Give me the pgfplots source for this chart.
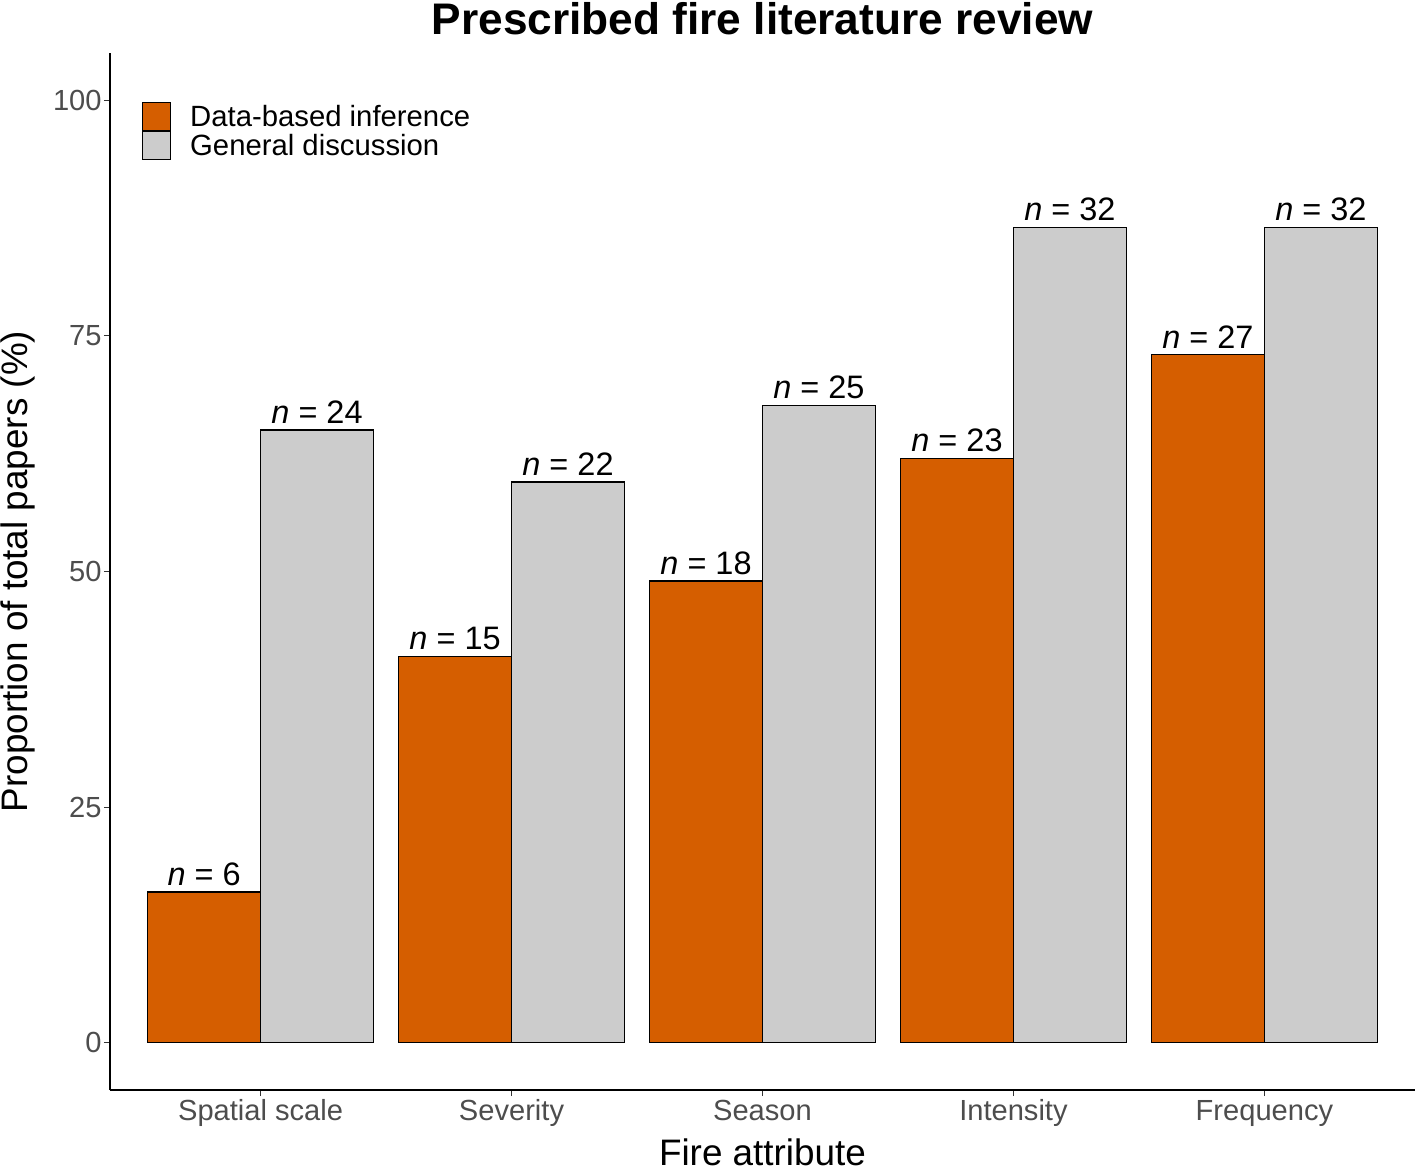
\documentclass[border=0pt]{standalone}
\usepackage{fontspec}
\setmainfont{Liberation Sans}
\usepackage{pgfplots}
\pgfplotsset{compat=1.18}
\usepackage{pgfplotstable}
\definecolor{dataorange}{HTML}{D55E00}
\definecolor{gengrey}{HTML}{CCCCCC}
\definecolor{ticklab}{HTML}{4D4D4D}
\definecolor{tickcol}{HTML}{333333}

\pgfplotstableread{
x y n
1 16.0 6
2 41.0 15
3 49.0 18
4 62.0 23
5 73.0 27
}\databased
\pgfplotstableread{
x y n
1 65.0 24
2 59.5 22
3 67.6 25
4 86.5 32
5 86.5 32
}\general

\begin{document}
\begin{tikzpicture}
\begin{axis}[
  name=ax,
  scale only axis,
  width=652.5bp, height=518.5bp,
  xmin=0.4, xmax=5.6, ymin=-5, ymax=105,
  axis lines=left,
  axis line style={line width=0.7bp, -},
  ybar, bar width=0.45,
  xtick={1,2,3,4,5},
  xticklabels={Spatial scale,Severity,Season,Intensity,Frequency},
  ytick={0,25,50,75,100},
  tick align=outside,
  major tick length=3bp,
  tick style={tickcol, line width=0.6bp},
  /pgf/number format/assume math mode=true,
  ticklabel style={font=\fontsize{14.6}{17}\selectfont, text=ticklab},
  yticklabel style={inner xsep=1bp},
  xticklabel style={inner ysep=1.5bp, text height=10.5bp, text depth=3bp},
  xlabel={Fire attribute},
  ylabel={Proportion of total papers (\%)},
  label style={font=\fontsize{18.5}{22}\selectfont},
  xlabel style={at={(rel axis cs:0.5,0)}, anchor=north, inner sep=0pt, text height=13.5bp, text depth=0pt, yshift=-24bp},
  ylabel style={at={(rel axis cs:0,0.5)}, anchor=center, inner sep=0pt, yshift=46bp},
  title={Prescribed fire literature review},
  title style={at={(rel axis cs:0.5,1)}, anchor=center, yshift=11.25bp, font=\bfseries\fontsize{22.2}{26}\selectfont},
  legend cell align=left,
  legend style={at={(rel axis cs:0,1)}, anchor=north west, xshift=16bp, yshift=-24.5bp,
    draw=none, fill=none, inner sep=0pt, outer sep=0pt, row sep=0pt, column sep=9.5bp,
    font=\fontsize{14.7}{17}\selectfont,
    nodes={inner sep=0pt, text height=12.25bp, text depth=2.25bp}},
  legend image code/.code={\draw[#1, line width=0.6bp] (0bp,-7bp) rectangle (14bp,7bp);},
  nodes near coords={\textit{n} = \pgfplotspointmeta},
  point meta=explicit symbolic,
  every node near coord/.append style={anchor=south, inner sep=0pt, yshift=3bp, font=\fontsize{16.3}{19}\selectfont, text=black},
]
\addplot[fill=dataorange, draw=black, line width=0.6bp, bar shift=-0.225] table[x=x, y=y, meta=n]{\databased};
\addlegendentry{Data-based inference}
\addplot[fill=gengrey, draw=black, line width=0.6bp, bar shift=0.225] table[x=x, y=y, meta=n]{\general};
\addlegendentry{General discussion}
\end{axis}
\pgfresetboundingbox
\path[use as bounding box] ([xshift=-55bp, yshift=-41bp]ax.south west) rectangle ([xshift=1.5bp, yshift=26.5bp]ax.north east);
\end{tikzpicture}
\end{document}
